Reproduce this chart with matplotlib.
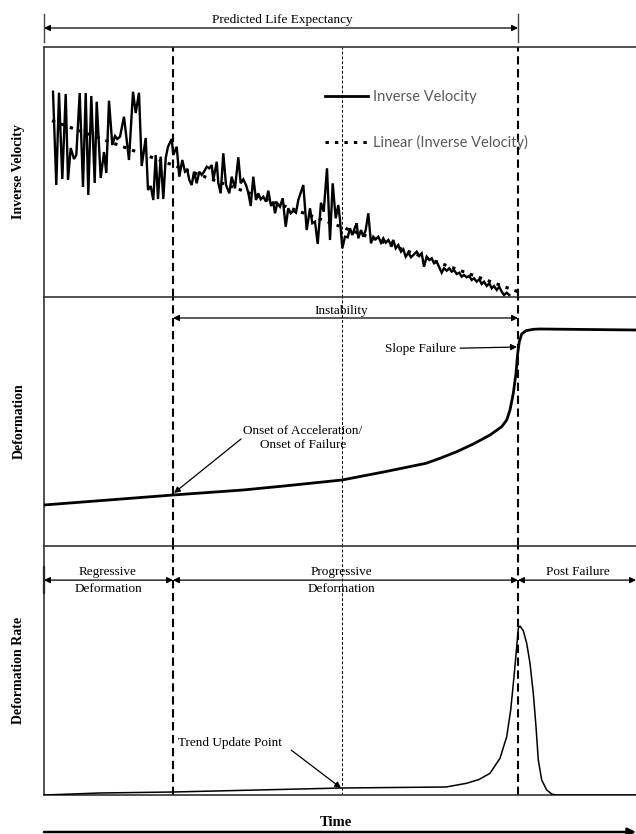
import matplotlib
matplotlib.use("Agg")
import matplotlib.pyplot as plt
from matplotlib.lines import Line2D

# ---------------- data (time in arbitrary units, 0..592) ----------------
T_MAX = 592
ONSET_T = 129        # onset of acceleration
UPDATE_T = 298       # trend update point
FAIL_T = 474         # slope failure

iv_t = [9, 12.3, 15, 18.3, 21.7, 24, 26.7, 30, 32.3, 35.7, 39, 41.7, 44.3, 47.3, 50.7, 52.7,
        56.7, 60, 62.3, 65, 68.3, 71, 73.3, 76, 80, 85, 89, 91.7, 95, 97.7, 101.7, 104, 106.7,
        109.3, 111.7, 114, 116.7, 119.3, 121.7, 124, 127.7,
        129.3, 132.7, 135.3, 138.3, 141, 143.3, 145.3, 147.7, 150, 152.7, 155.3, 157.7, 160,
        162.7, 165.3, 167.7, 169.3, 172.7, 174.3, 176.7, 179.3, 182, 185.3, 187.7, 191, 194.3,
        196.7, 199.3, 202, 204.3, 206.7, 209.3, 212, 214.3, 216.7, 219.3, 222, 224.3, 227,
        229.3, 231, 233.3, 236, 238.7, 241.7, 244.3, 246.7, 249.3, 252, 254.3, 256,
        259.3, 262.7, 266, 268.3, 271, 273.7, 277, 279.7, 283, 286, 288.7, 291.7, 294.3, 296,
        298.3, 301, 303.7, 306, 308.3, 311, 312.7, 314.3, 317, 319.3, 321.7, 324.3, 327, 329.3,
        331.7, 334.3, 337, 339.3, 341.7, 344.3, 347, 349.3, 351.7, 354.3, 357, 359.3, 361.7,
        364.3, 367, 369.3, 372.7, 375.3, 377.7, 380, 382.7, 385.3, 387.7, 390, 392.7, 395.3,
        397.7, 400, 402.7, 405.3, 407.7, 410, 412.7, 415.3, 417.7, 420, 422.7, 425.3, 427.7,
        430, 432.7, 435.3, 437.7, 440, 442.7, 445.3, 447.7, 450, 452.7, 455.3, 457.7, 460,
        462.7, 465.3]
iv_v = [205.3, 112, 204.3, 118, 203, 117, 149, 138, 142, 204, 110, 204, 102, 201, 114, 195.3,
        119, 145, 124, 196.3, 152, 161, 158, 160.3, 180.3, 137, 205.3, 184, 204.3, 131, 159, 107,
        111, 97, 142, 98, 140.3, 98, 139, 150.3, 158,
        142, 150.3, 120.3, 137, 125.3, 127, 117, 112, 125.3, 113.7, 125.3, 122, 125.3,
        130.3, 128.7, 132, 117, 135.3, 114.3, 103.7, 143.7, 112, 103.7, 120.3, 108.7, 139.7,
        113.7, 117.7, 112, 104.3, 91, 120.3, 97, 103.7, 97.7, 100.3, 95.3, 106.3, 91,
        95.3, 83.7, 93.7, 90.3, 98.7, 70.3, 88.7, 83.7, 86.3, 84.3, 97, 102,
        112, 67, 88.7, 73.7, 75.3, 53, 94.3, 85.3, 128.7, 57, 113.7, 78.7, 92, 77,
        48.7, 60.3, 59.7, 68.7, 62, 69.7, 73.7, 58.7, 67, 60.3, 67, 83.7, 53.7, 60.3,
        57.7, 60.3, 54.3, 58.7, 54.3, 57, 52, 57, 48.7, 52, 45.3, 47.7, 40.3,
        44.3, 39.7, 42, 45.3, 41, 43.7, 30.3, 40.3, 37, 38.7, 33.7, 35.3, 29.7,
        24.3, 28.7, 26.3, 28.7, 25.3, 27, 23, 24.3, 20.3, 22, 19.7, 21, 17,
        18.7, 15.3, 17.7, 13, 15.3, 11, 13.7, 8.7, 11, 7, 10.3, 5.3, 2,
        4.3, 2]

trend_t = [8, 474]
trend_v = [176.3, 5.3]

def_t = [0, 129, 199, 240, 298, 341, 382, 396, 412.7, 429.3, 446, 457.7, 462.7, 466, 469.3,
         472, 473.7, 475.3, 477.7, 482, 489.3, 496, 592]
def_v = [41, 51, 56, 60, 66, 74.3, 82.7, 87.7, 94.3, 102, 111, 119.3, 126, 136, 152.7,
         172.7, 192.7, 204.3, 212, 215.3, 216.7, 217, 216]

rate_t = [0, 56, 129, 298, 402, 422.5, 435, 446, 456, 462.7, 466.7, 470, 472.7, 474.3, 476,
          479.3, 482.7, 486, 489.3, 492, 494.3, 497.7, 502.7, 507.7, 512, 592]
rate_v = [0, 2, 3, 7, 8, 11.7, 15.5, 21.7, 36.7, 58.3, 85, 118.3, 148.3, 166.7, 169,
          164.3, 151.7, 131.7, 101.7, 68.3, 35, 15, 5, 1, 0, 0]

# ---------------- figure ----------------
W, H = 636, 834
fig = plt.figure(figsize=(W / 100, H / 100), dpi=100)
SERIF = "Liberation Serif"
SPINE_C = "#333333"

def px_axes(top, bottom):
    return fig.add_axes([44 / W, 1 - bottom / H, (W - 44) / W, (bottom - top) / H])

ax1 = px_axes(47, 297)
ax2 = px_axes(297, 546)
ax3 = px_axes(546, 795)

for ax, ymax in ((ax1, 250), (ax2, 249), (ax3, 249)):
    ax.set_xlim(0, T_MAX)
    ax.set_ylim(0, ymax)
    ax.set_xticks([])
    ax.set_yticks([])
    ax.spines["right"].set_visible(False)
    for s in ("left", "top", "bottom"):
        ax.spines[s].set_color(SPINE_C)
        ax.spines[s].set_linewidth(1.2)
    ax.patch.set_alpha(0)
    ax.axvline(ONSET_T, color="black", lw=1.5, dashes=(4, 2.2), zorder=1)
    ax.axvline(FAIL_T, color="black", lw=1.5, dashes=(4, 2.2), zorder=1)
    ax.axvline(UPDATE_T, color="black", lw=0.7, dashes=(3, 2), zorder=1)

ax2.spines["top"].set_visible(False)
ax3.spines["top"].set_visible(False)

def ylab(ax, text):
    ax.set_ylabel(text, family=SERIF, fontweight="bold", fontsize=10)
    ax.yaxis.label.set_verticalalignment("center")
    ax.yaxis.set_label_coords(-25 / 592, 0.5)

# ---- panel 1 ----
ax1.plot(iv_t, iv_v, color="black", lw=1.7, solid_joinstyle="miter", zorder=3)
ax1.plot(trend_t, trend_v, color="black", lw=2.2, dashes=(1.1, 2.0), zorder=4)
handles = [Line2D([], [], color="black", lw=2.0),
           Line2D([], [], color="black", lw=2.2, dashes=(1.1, 2.0))]
leg = ax1.legend(handles, ["Inverse Velocity", "Linear (Inverse Velocity)"],
                 loc="center left", bbox_to_anchor=(0.4747, 0.708), frameon=False,
                 borderpad=0, borderaxespad=0, handlelength=2.95, handletextpad=0.35,
                 labelspacing=2.1, prop={"family": "Lato", "size": 10.5})
for txt in leg.get_texts():
    txt.set_color("#595959")
ylab(ax1, "Inverse Velocity")

arrow_kw = dict(arrowstyle="<|-|>", color="black", lw=0.9, mutation_scale=9,
                shrinkA=0, shrinkB=0)
tr1 = ax1.get_xaxis_transform()
ax1.annotate("", xy=(0, 1.076), xytext=(FAIL_T, 1.076), xycoords=tr1, textcoords=tr1,
             arrowprops=arrow_kw, annotation_clip=False)
for t in (0, FAIL_T):
    ax1.plot([t, t], [1.02, 1.132], transform=tr1, color="#444444", lw=1.0, clip_on=False)
ax1.text(238, 1.108, "Predicted Life Expectancy", transform=tr1, ha="center", va="center",
         family=SERIF, fontsize=9.5)

# ---- panel 2 ----
ax2.plot(def_t, def_v, color="black", lw=2.0, zorder=3)
ylab(ax2, "Deformation")
tr2 = ax2.get_xaxis_transform()
ax2.annotate("", xy=(ONSET_T, 0.9157), xytext=(FAIL_T, 0.9157), xycoords=tr2, textcoords=tr2,
             arrowprops=arrow_kw)
ax2.text(297, 0.944, "Instability", transform=tr2, ha="center", va="center",
         family=SERIF, fontsize=9.5)
ax2.annotate("Slope Failure", xy=(FAIL_T - 1, 199), xytext=(412, 197),
             ha="right", va="center", family=SERIF, fontsize=9.5,
             arrowprops=dict(arrowstyle="-|>", color="black", lw=0.9, mutation_scale=9,
                             shrinkA=1, shrinkB=0))
ax2.annotate("", xy=(ONSET_T + 1, 53), xytext=(197, 107),
             arrowprops=dict(arrowstyle="-|>", color="black", lw=0.9, mutation_scale=9,
                             shrinkA=0, shrinkB=0))
ax2.text(259, 108, "Onset of Acceleration/\nOnset of Failure", ha="center", va="center",
         family=SERIF, fontsize=9.5, linespacing=1.15)

# ---- panel 3 ----
ax3.plot(rate_t, rate_v, color="black", lw=1.1, zorder=3)
ylab(ax3, "Deformation Rate")
tr3 = ax3.get_xaxis_transform()
for a, b in ((0, ONSET_T), (ONSET_T, FAIL_T), (FAIL_T, T_MAX)):
    ax3.annotate("", xy=(a, 0.863), xytext=(b, 0.863), xycoords=tr3, textcoords=tr3,
                 arrowprops=arrow_kw, annotation_clip=False)
ax3.plot([0, 0], [0.81, 0.915], transform=tr3, color="black", lw=1.6, clip_on=False)
ax3.text(64, 0.862, "Regressive\nDeformation", transform=tr3, ha="center", va="center",
         family=SERIF, fontsize=9.5, linespacing=1.55)
ax3.text(297, 0.862, "Progressive\nDeformation", transform=tr3, ha="center", va="center",
         family=SERIF, fontsize=9.5, linespacing=1.55)
ax3.text(534, 0.896, "Post Failure", transform=tr3, ha="center", va="center",
         family=SERIF, fontsize=9.5)
ax3.annotate("Trend Update Point", xy=(UPDATE_T - 1, 7), xytext=(134, 52),
             ha="left", va="center", family=SERIF, fontsize=9.5,
             arrowprops=dict(arrowstyle="-|>", color="black", lw=0.9, mutation_scale=9,
                             shrinkA=6, shrinkB=0, relpos=(1, 0.5)))

# Time axis label and arrow
ax3.text(0.5 - 4 / 592, -27 / 249, "Time", transform=ax3.transAxes, ha="center",
         va="center", family=SERIF, fontweight="bold", fontsize=10.5)
ax3.annotate("", xy=(1.0, -37 / 249), xytext=(0, -37 / 249), xycoords="axes fraction",
             textcoords="axes fraction", annotation_clip=False,
             arrowprops=dict(arrowstyle="-|>", color="black", lw=1.8, mutation_scale=12,
                             shrinkA=0, shrinkB=0))

fig.savefig("out.png", dpi=100)
